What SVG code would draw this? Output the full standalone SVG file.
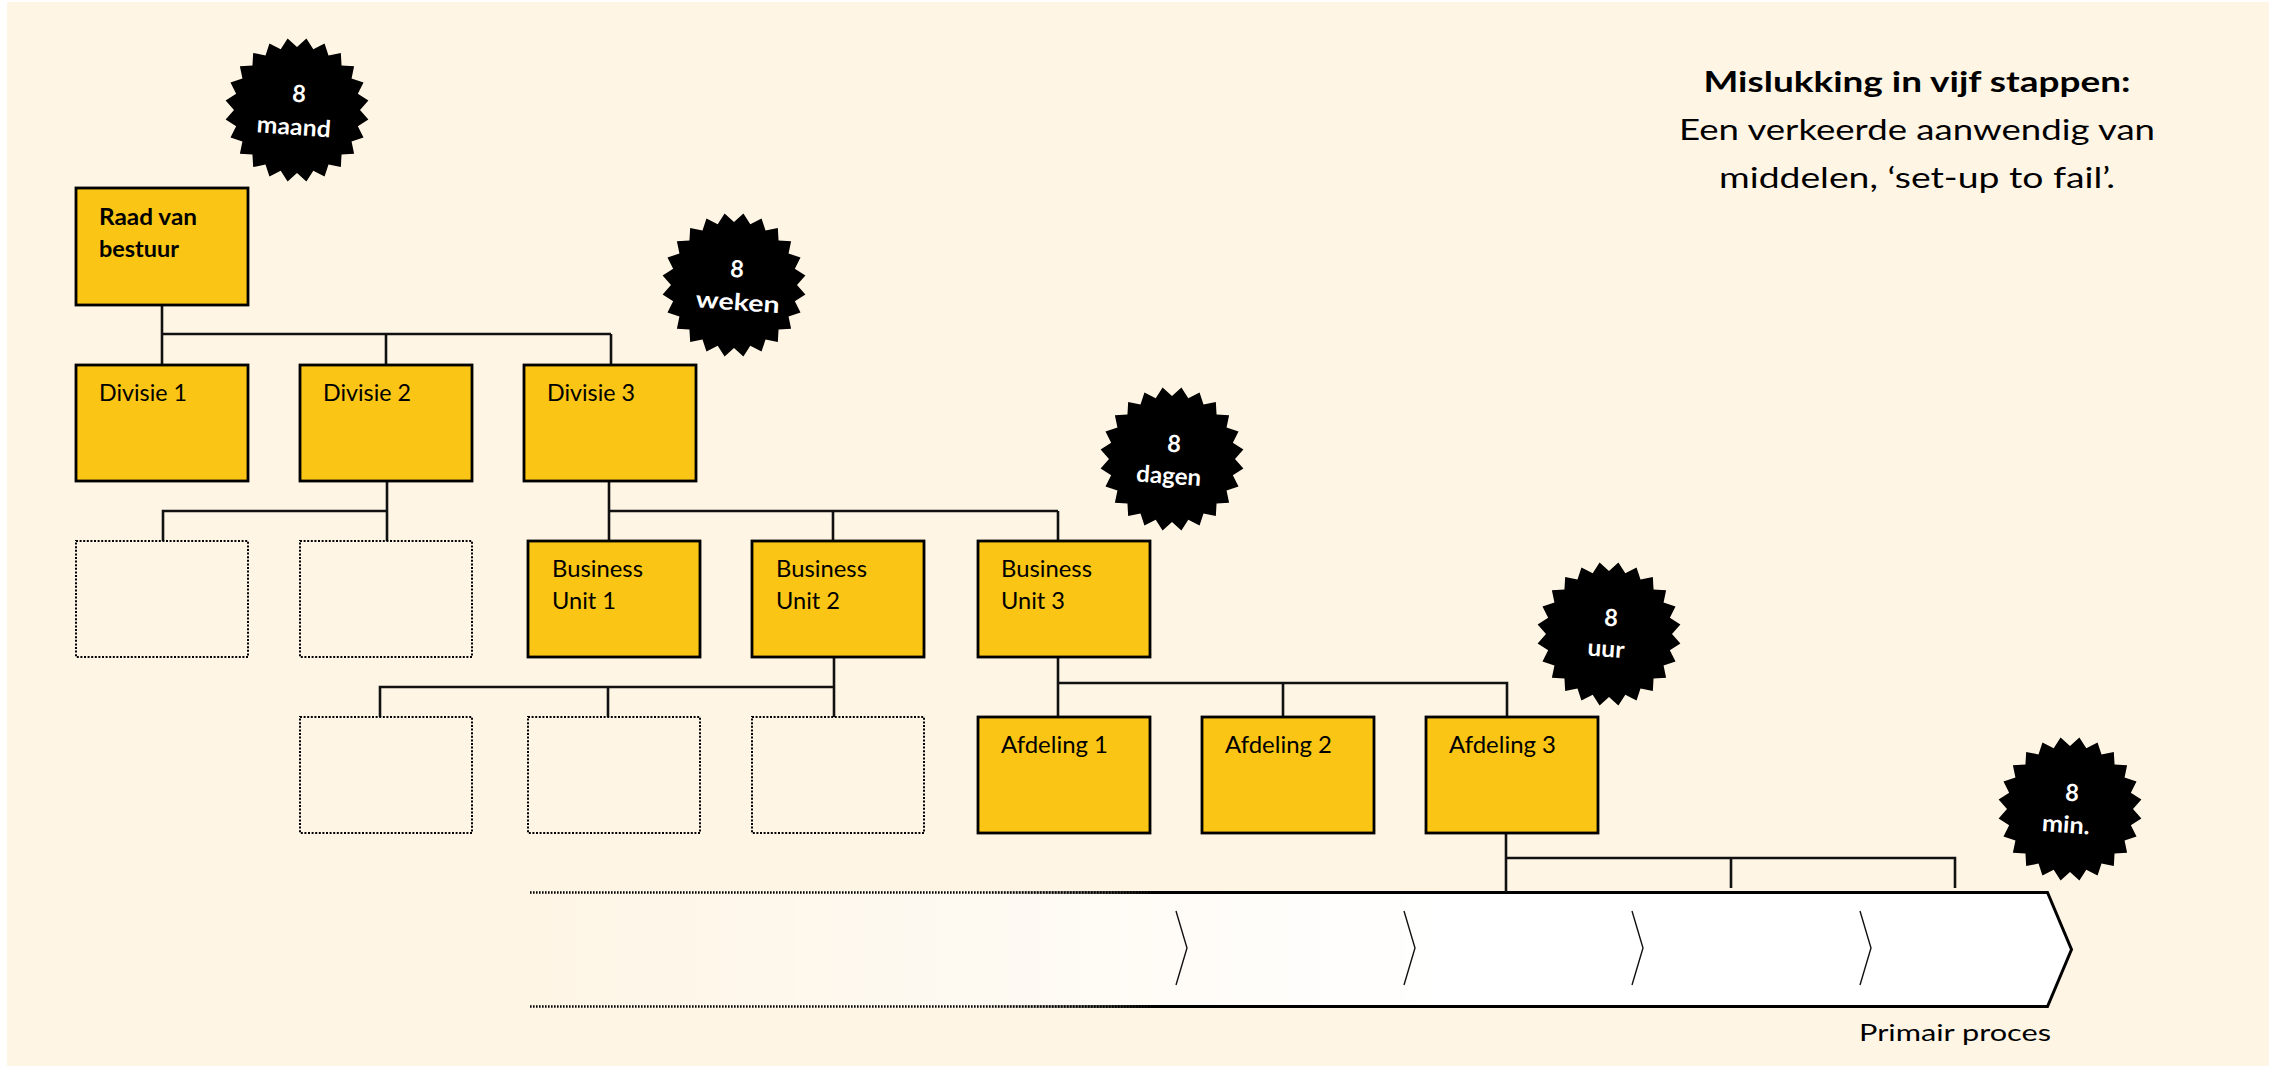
<svg xmlns="http://www.w3.org/2000/svg" width="2277" height="1066" viewBox="0 0 2277 1066">
<style>
.box{fill:#FAC515;stroke:#000;stroke-width:2.8}
.ghost{fill:#FEF5E5;stroke:#000;stroke-width:2;stroke-dasharray:2 1.6}
.conn{fill:none;stroke:#111;stroke-width:2.6}
.lbl{font-family:Lato,"Open Sans","Liberation Sans",sans-serif;font-size:23.5px;fill:#000}
.lblb{font-family:Lato,"Open Sans","Liberation Sans",sans-serif;font-size:23.5px;font-weight:bold;fill:#000}
.star{fill:#000}
.st{font-family:Lato,"Open Sans","Liberation Sans",sans-serif;font-size:23.5px;font-weight:bold;fill:#fff;text-anchor:middle}
.title{font-family:Lato,"Open Sans","Liberation Sans",sans-serif;font-size:28px;fill:#000;text-anchor:middle}
.chev{fill:none;stroke:#111;stroke-width:1.4}
</style>
<defs>
<polygon id="burst" points="63,0 71.38,9.40 60.85,16.31 66.52,27.55 54.56,31.5 57.12,43.83 44.55,44.55 43.83,57.12 31.5,54.56 27.55,66.52 16.31,60.85 9.40,71.38 0,63 -9.40,71.38 -16.31,60.85 -27.55,66.52 -31.5,54.56 -43.83,57.12 -44.55,44.55 -57.12,43.83 -54.56,31.5 -66.52,27.55 -60.85,16.31 -71.38,9.40 -63,0 -71.38,-9.40 -60.85,-16.31 -66.52,-27.55 -54.56,-31.5 -57.12,-43.83 -44.55,-44.55 -43.83,-57.12 -31.5,-54.56 -27.55,-66.52 -16.31,-60.85 -9.40,-71.38 0,-63 9.40,-71.38 16.31,-60.85 27.55,-66.52 31.5,-54.56 43.83,-57.12 44.55,-44.55 57.12,-43.83 54.56,-31.5 66.52,-27.55 60.85,-16.31 71.38,-9.40"/>
<linearGradient id="fillFade" gradientUnits="userSpaceOnUse" x1="530" y1="0" x2="1450" y2="0">
<stop offset="0" stop-color="#fff" stop-opacity="0"/>
<stop offset="1" stop-color="#fff" stop-opacity="1"/>
</linearGradient>
<linearGradient id="lineFade" gradientUnits="userSpaceOnUse" x1="975" y1="0" x2="1155" y2="0">
<stop offset="0" stop-color="#000" stop-opacity="0"/>
<stop offset="1" stop-color="#000" stop-opacity="1"/>
</linearGradient>
</defs>

<rect x="0" y="0" width="2277" height="1066" fill="#fff"/>
<rect x="7" y="2" width="2262" height="1064" fill="#FEF5E5"/>

<!-- primary process arrow -->
<g id="primair-proces">
<path d="M530,892.5 H2047.5 L2071.5,949.5 L2047.5,1006.5 H530 Z" fill="url(#fillFade)"/>
<line x1="530" y1="892.5" x2="1160" y2="892.5" stroke="#000" stroke-width="2.4" stroke-dasharray="1.6 1.4"/>
<line x1="530" y1="1006.5" x2="1160" y2="1006.5" stroke="#000" stroke-width="2.4" stroke-dasharray="1.6 1.4"/>
<path d="M975,892.5 H2047.5 L2071.5,949.5 L2047.5,1006.5 H975" fill="none" stroke="url(#lineFade)" stroke-width="3"/>
<path class="chev" d="M1176,911 L1187,948 L1176,985"/>
<path class="chev" d="M1404,911 L1415,948 L1404,985"/>
<path class="chev" d="M1632,911 L1643,948 L1632,985"/>
<path class="chev" d="M1860,911 L1871,948 L1860,985"/>
<text class="lbl" x="1859" y="1040.5" font-size="25" textLength="192" lengthAdjust="spacingAndGlyphs">Primair proces</text>
</g>

<!-- connectors -->
<g id="connectors">
<path class="conn" d="M162,305 V365 M162,334 H611 M386,334 V365 M611,334 V365"/>
<path class="conn" d="M387,481 V541 M387,511 H163 V541"/>
<path class="conn" d="M609,481 V541 M609,511 H1058 M833,511 V541 M1058,511 V541"/>
<path class="conn" d="M834,657 V717 M834,687 H380 V717 M608,687 V717"/>
<path class="conn" d="M1058,657 V717 M1058,683 H1507 V717 M1283,683 V717"/>
<path class="conn" d="M1506,833 V892 M1506,858 H1955 V888 M1731,858 V888"/>
</g>

<!-- nodes -->
<g id="raad-van-bestuur"><rect class="box" x="76" y="188" width="172" height="117"/>
<text class="lblb" x="99" y="225" textLength="98" lengthAdjust="spacingAndGlyphs">Raad van</text>
<text class="lblb" x="99" y="256.5" textLength="80" lengthAdjust="spacingAndGlyphs">bestuur</text></g>

<g id="divisie-1"><rect class="box" x="76" y="365" width="172" height="116"/>
<text class="lbl" x="99" y="401" textLength="88" lengthAdjust="spacingAndGlyphs">Divisie 1</text></g>
<g id="divisie-2"><rect class="box" x="300" y="365" width="172" height="116"/>
<text class="lbl" x="323" y="401" textLength="88" lengthAdjust="spacingAndGlyphs">Divisie 2</text></g>
<g id="divisie-3"><rect class="box" x="524" y="365" width="172" height="116"/>
<text class="lbl" x="547" y="401" textLength="88" lengthAdjust="spacingAndGlyphs">Divisie 3</text></g>

<g id="leeg-1"><rect class="ghost" x="76" y="541" width="172" height="116"/></g>
<g id="leeg-2"><rect class="ghost" x="300" y="541" width="172" height="116"/></g>

<g id="business-unit-1"><rect class="box" x="528" y="541" width="172" height="116"/>
<text class="lbl" x="552" y="577" textLength="91" lengthAdjust="spacingAndGlyphs">Business</text>
<text class="lbl" x="552" y="608.5" textLength="64" lengthAdjust="spacingAndGlyphs">Unit 1</text></g>
<g id="business-unit-2"><rect class="box" x="752" y="541" width="172" height="116"/>
<text class="lbl" x="776" y="577" textLength="91" lengthAdjust="spacingAndGlyphs">Business</text>
<text class="lbl" x="776" y="608.5" textLength="64" lengthAdjust="spacingAndGlyphs">Unit 2</text></g>
<g id="business-unit-3"><rect class="box" x="978" y="541" width="172" height="116"/>
<text class="lbl" x="1001" y="577" textLength="91" lengthAdjust="spacingAndGlyphs">Business</text>
<text class="lbl" x="1001" y="608.5" textLength="64" lengthAdjust="spacingAndGlyphs">Unit 3</text></g>

<g id="leeg-3"><rect class="ghost" x="300" y="717" width="172" height="116"/></g>
<g id="leeg-4"><rect class="ghost" x="528" y="717" width="172" height="116"/></g>
<g id="leeg-5"><rect class="ghost" x="752" y="717" width="172" height="116"/></g>

<g id="afdeling-1"><rect class="box" x="978" y="717" width="172" height="116"/>
<text class="lbl" x="1001" y="753" textLength="107" lengthAdjust="spacingAndGlyphs">Afdeling 1</text></g>
<g id="afdeling-2"><rect class="box" x="1202" y="717" width="172" height="116"/>
<text class="lbl" x="1225" y="753" textLength="107" lengthAdjust="spacingAndGlyphs">Afdeling 2</text></g>
<g id="afdeling-3"><rect class="box" x="1426" y="717" width="172" height="116"/>
<text class="lbl" x="1449" y="753" textLength="107" lengthAdjust="spacingAndGlyphs">Afdeling 3</text></g>

<!-- badges -->
<g id="badge-maand"><use href="#burst" class="star" x="297" y="110"/>
<g transform="rotate(4 297 110)"><text class="st" x="298" y="102">8</text>
<text class="st" x="295" y="135" textLength="74" lengthAdjust="spacingAndGlyphs">maand</text></g></g>
<g id="badge-weken"><use href="#burst" class="star" x="734" y="285"/>
<g transform="rotate(4 734 285)"><text class="st" x="736" y="277">8</text>
<text class="st" x="739" y="310" textLength="84" lengthAdjust="spacingAndGlyphs">weken</text></g></g>
<g id="badge-dagen"><use href="#burst" class="star" x="1172" y="459"/>
<g transform="rotate(4 1172 459)"><text class="st" x="1173" y="452">8</text>
<text class="st" x="1170" y="484" textLength="65" lengthAdjust="spacingAndGlyphs">dagen</text></g></g>
<g id="badge-uur"><use href="#burst" class="star" x="1609" y="634"/>
<g transform="rotate(4 1609 634)"><text class="st" x="1610" y="626">8</text>
<text class="st" x="1607" y="657" textLength="37" lengthAdjust="spacingAndGlyphs">uur</text></g></g>
<g id="badge-min"><use href="#burst" class="star" x="2070" y="809"/>
<g transform="rotate(4 2070 809)"><text class="st" x="2071" y="801">8</text>
<text class="st" x="2067" y="833" textLength="48" lengthAdjust="spacingAndGlyphs">min.</text></g></g>

<!-- title -->
<g id="titel">
<text class="title" x="1917" y="92" font-weight="bold" textLength="427" lengthAdjust="spacingAndGlyphs">Mislukking in vijf stappen:</text>
<text class="title" x="1917" y="139.5" textLength="476" lengthAdjust="spacingAndGlyphs">Een verkeerde aanwendig van</text>
<text class="title" x="1917" y="188" textLength="396" lengthAdjust="spacingAndGlyphs">middelen, ‘set-up to fail’.</text>
</g>
</svg>
